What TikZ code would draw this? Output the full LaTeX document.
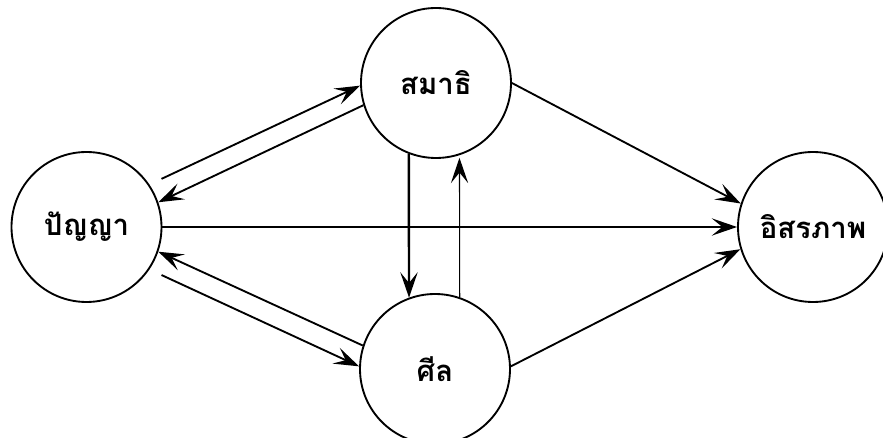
\documentclass[tikz,border=0pt]{standalone}
\usepackage{fontspec}
\usepackage{tikz}
\usetikzlibrary{arrows.meta}
\newfontfamily\thaifont[Script=Thai]{Loma}

\begin{document}
\begin{tikzpicture}[x=0.75pt,y=0.75pt,yscale=-1,xscale=1,
  state/.style={draw, circle, line width=1.4pt, minimum size=112.5pt, inner sep=0pt,
    font=\thaifont\bfseries\fontsize{22}{26}\selectfont},
  link/.style={line width=1.4pt, -{Stealth[length=19pt,width=13pt,inset=8pt]}},
  thinlink/.style={link, line width=0.8pt},
  thicklink/.style={link, line width=1.8pt}]
\useasboundingbox (0,0) rectangle (883,438);

% Circles
\node [state] (panya) at (86.5,227) {ปัญญา};
\node [state] (samadhi) at (436,83) {สมาธิ};
\node [state] (sila) at (435,369) {ศีล};
\node [state] (free) at (813,227) {อิสรภาพ};

%Straight Lines: panya <-> samadhi
\draw [link, shorten <=10pt] (panya.34) -- (samadhi.182);
\draw [link] (samadhi.197) -- (panya.19);
%Straight Lines: panya <-> sila
\draw [link, shorten <=10pt] (panya.326) -- (sila.178);
\draw [link] (sila.162) -- (panya.341);
%Straight Lines: samadhi <-> sila
\draw [thicklink] (samadhi.249) -- (sila.110);
\draw [thinlink, shorten >=2pt] (sila.71) -- (samadhi.288);
%Straight Lines: to free
\draw [link] (panya) -- (free);
\draw [link] (samadhi.0) -- (free.162);
\draw [link] (sila.2) -- (free.197);
\end{tikzpicture}
\end{document}
